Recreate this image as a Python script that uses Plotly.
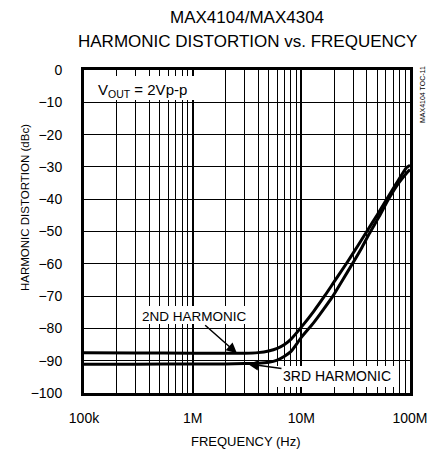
import plotly.graph_objects as go

# ---- data ----
freq_2nd = [1e5, 3e5, 1e6, 2e6, 3e6, 4e6, 5e6, 6e6, 7e6, 8e6, 10e6, 13e6, 16.5e6,
            20e6, 26e6, 33e6, 40e6, 50e6, 61e6, 75e6, 93e6, 100e6]
hd_2nd = [-87.5, -87.6, -87.7, -87.7, -87.7, -87.5, -87.0, -86.2, -85.0, -83.4, -79.6,
          -74.7, -69.8, -65.6, -59.9, -54.5, -50.0, -44.8, -40.0, -35.1, -30.2, -29.5]

freq_3rd = [1e5, 3e5, 1e6, 2e6, 3e6, 4e6, 5e6, 6e6, 7e6, 8e6, 10e6, 13e6, 16e6,
            19.5e6, 24e6, 29.5e6, 36e6, 42e6, 52e6, 63e6, 78e6, 95e6, 100e6]
hd_3rd = [-91.1, -91.1, -91.0, -91.0, -90.9, -90.8, -90.5, -89.8, -88.6, -87.2, -82.8,
          -78.2, -74.1, -70.0, -65.0, -60.0, -55.0, -50.8, -45.4, -40.2, -35.2, -31.6, -30.8]

x_tickvals = [1e5, 1e6, 1e7, 1e8]
x_ticktext = ["100k", "1M", "10M", "100M"]
x_minor = [m * 10 ** e for e in (5, 6, 7) for m in range(2, 10)]
y_tickvals = [0, -10, -20, -30, -40, -50, -60, -70, -80, -90, -100]

FONT = "Liberation Sans, Arial, Helvetica, sans-serif"

# The page body has an 8px margin, so the figure is drawn 8px right/down.
OFF = 8
FIG_W, FIG_H = 436 - OFF, 454 - OFF
L, R, T, B = 84, 410, 70, 393   # plot area in page pixels
W, H = R - L, B - T


def px(x):
    return (x - L) / W


def py(y):
    return (B - y) / H


fig = go.Figure()
fig.add_trace(go.Scatter(x=freq_2nd, y=hd_2nd, mode="lines", name="2ND HARMONIC",
                         line=dict(color="black", width=3, shape="spline", smoothing=0.6)))
fig.add_trace(go.Scatter(x=freq_3rd, y=hd_3rd, mode="lines", name="3RD HARMONIC",
                         line=dict(color="black", width=3, shape="spline", smoothing=0.6)))

axis_common = dict(
    showline=True, linecolor="black", linewidth=3, mirror="ticks",
    ticks="inside", ticklen=5, tickwidth=1.2, tickcolor="black",
    showgrid=True, gridcolor="black", zeroline=False, automargin=False,
    tickfont=dict(family=FONT, size=14, color="black"),
)

fig.update_xaxes(
    type="log", range=[5, 8], tickvals=x_tickvals, ticktext=x_ticktext,
    gridwidth=1.8, ticklabelstandoff=10,
    minor=dict(tickvals=x_minor, ticks="inside", ticklen=5, tickcolor="black",
               tickwidth=1.2, showgrid=True, gridcolor="black", gridwidth=1.3),
    **axis_common,
)
fig.update_yaxes(
    range=[-100, 0], tickvals=y_tickvals, gridwidth=1.3, ticklabelstandoff=16,
    **axis_common,
)

# white label backgrounds (cover grid, keep frame and tick stubs visible)
for x0, x1, y0, y1 in [(86, 198, 76, 100),
                       (137, 251, 306, 324),
                       (277, 396, 366, 387)]:
    fig.add_shape(type="rect", xref="paper", yref="paper",
                  x0=px(x0), x1=px(x1), y0=py(y1), y1=py(y0),
                  fillcolor="white", line=dict(width=0), layer="above")

for text, yy in [("MAX4104/MAX4304", 17), ("HARMONIC DISTORTION vs. FREQUENCY", 41)]:
    fig.add_annotation(text=text, xref="paper", yref="paper",
                       x=px(247), y=py(yy), showarrow=False,
                       xanchor="center", yanchor="middle",
                       font=dict(family=FONT, size=17, color="black"))

fig.add_annotation(text="FREQUENCY (Hz)", xref="paper", yref="paper",
                   x=px(246), y=py(441), showarrow=False,
                   xanchor="center", yanchor="middle",
                   font=dict(family=FONT, size=13, color="black"))

fig.add_annotation(text="HARMONIC DISTORTION (dBc)", xref="paper", yref="paper",
                   x=px(25), y=py(208), textangle=-90,
                   showarrow=False, xanchor="center", yanchor="middle",
                   font=dict(family=FONT, size=11.5, color="black"))

fig.add_annotation(text="V<sub>OUT</sub> = 2Vp-p", xref="paper", yref="paper",
                   x=px(96), y=py(90), showarrow=False,
                   xanchor="left", yanchor="middle",
                   font=dict(family=FONT, size=15, color="black"))

fig.add_annotation(text="MAX4104 TOC-11", xref="paper", yref="paper",
                   x=px(422), y=py(95), textangle=-90,
                   showarrow=False, xanchor="center", yanchor="middle",
                   font=dict(family=FONT, size=7, color="black"))

fig.add_annotation(text="2ND HARMONIC", x=6.4075, y=-87.7, xref="x", yref="y",
                   showarrow=True, ax=-42, ay=-37, arrowhead=2, arrowsize=1.4,
                   arrowwidth=1.5, arrowcolor="black",
                   font=dict(family=FONT, size=13.5, color="black"))
fig.add_annotation(text="3RD HARMONIC", x=6.509, y=-91.0, xref="x", yref="y",
                   showarrow=True, ax=89, ay=12, arrowhead=2, arrowsize=1.4,
                   arrowwidth=1.5, arrowcolor="black",
                   font=dict(family=FONT, size=14, color="black"))

fig.update_layout(
    width=FIG_W, height=FIG_H,
    margin=dict(l=L - OFF, r=436 - R, t=T - OFF, b=454 - B, autoexpand=False),
    paper_bgcolor="white", plot_bgcolor="white",
    showlegend=False,
    font=dict(family=FONT, color="black"),
)

fig.write_html("out.html")
